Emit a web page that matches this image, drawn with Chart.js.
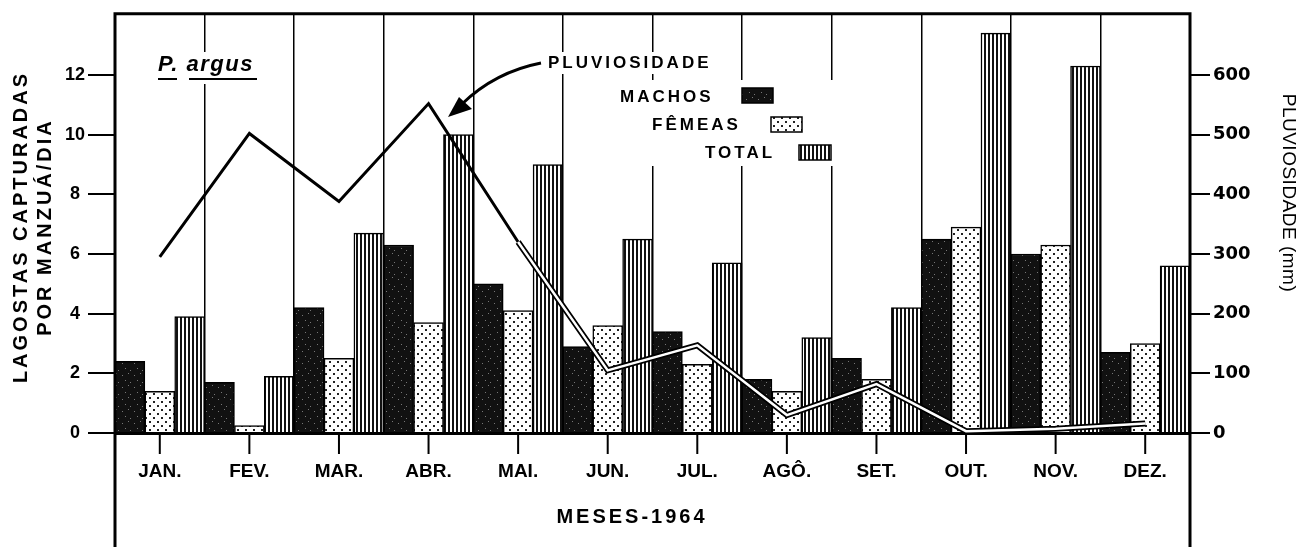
<!DOCTYPE html>
<html>
<head>
<meta charset="utf-8">
<script src="https://cdn.jsdelivr.net/npm/chart.js@4"></script>
<style>
    html, body { margin: 0; padding: 0; background: #fff; }
    #wrap { width: 1310px; height: 547px; }
</style>
</head>
<body>
<div id="wrap"><canvas id="lagostas_chart"></canvas></div>
<script>
const meses = ['JAN.', 'FEV.', 'MAR.', 'ABR.', 'MAI.', 'JUN.', 'JUL.', 'AGÔ.', 'SET.', 'OUT.', 'NOV.', 'DEZ.']
const machos = [2.4, 1.7, 4.2, 6.3, 5.0, 2.9, 3.4, 1.8, 2.5, 6.5, 6.0, 2.7]
const femeas = [1.4, 0.25, 2.5, 3.7, 4.1, 3.6, 2.3, 1.4, 1.8, 6.9, 6.3, 3.0]
const total = [3.9, 1.9, 6.7, 10.0, 9.0, 6.5, 5.7, 3.2, 4.2, 13.4, 12.3, 5.6]
const pluviosidade = [295, 502, 388, 552, 320, 105, 147, 30, 82, 3, 7, 16]
const ticksLagostas = [0, 2, 4, 6, 8, 10, 12]
const ticksChuva = [0, 100, 200, 300, 400, 500, 600]

const lagostas_chart = document.querySelector('#lagostas_chart')

// fill patterns for the bars
function tile(w, h, draw) {
    const c = document.createElement('canvas')
    c.width = w
    c.height = h
    const g = c.getContext('2d')
    draw(g)
    return g.createPattern(c, 'repeat')
}
const padraoMachos = tile(12, 12, g => {
    g.fillStyle = '#111'
    g.fillRect(0, 0, 12, 12)
    g.fillStyle = '#777'
    g.fillRect(2, 3, 1, 1)
    g.fillRect(8, 1, 1, 1)
    g.fillRect(5, 8, 1, 1)
    g.fillRect(10, 10, 1, 1)
})
const padraoFemeas = tile(8, 8, g => {
    g.fillStyle = '#fff'
    g.fillRect(0, 0, 8, 8)
    g.fillStyle = '#222'
    g.fillRect(1, 1, 2, 2)
    g.fillRect(5, 5, 2, 2)
})
const padraoTotal = tile(4, 4, g => {
    g.fillStyle = '#fff'
    g.fillRect(0, 0, 4, 4)
    g.fillStyle = '#111'
    g.fillRect(0, 0, 2, 4)
})

function texto(ctx, str, x, y, font, spacing, align) {
    ctx.font = font
    ctx.letterSpacing = spacing + 'px'
    ctx.textAlign = align || 'left'
    ctx.textBaseline = 'middle'
    ctx.fillText(str, x, y)
}

function caixa(ctx, x, y, w, h, fill) {
    ctx.fillStyle = fill
    ctx.fillRect(x, y, w, h)
    ctx.strokeStyle = '#000'
    ctx.lineWidth = 1.5
    ctx.strokeRect(x, y, w, h)
}

// labels, legend and annotation, under the bars but over the grid
const anotacoes = {
    id: 'anotacoes',
    beforeDatasetsDraw(chart) {
        const ctx = chart.ctx
        ctx.save()
        ctx.fillStyle = '#fff'
        ctx.fillRect(150, 52, 115, 32)
        ctx.fillRect(540, 52, 178, 22)
        ctx.fillRect(612, 80, 225, 86)

        ctx.fillStyle = '#000'
        texto(ctx, 'P. argus', 158, 65, 'italic bold 22px "Liberation Sans"', 1.5)
        ctx.fillRect(158, 78, 19, 2)
        ctx.fillRect(189, 78, 68, 2)

        texto(ctx, 'PLUVIOSIDADE', 548, 63, 'bold 17px "Liberation Sans"', 3)
        texto(ctx, 'MACHOS', 620, 97, 'bold 17px "Liberation Sans"', 3)
        texto(ctx, 'FÊMEAS', 652, 125, 'bold 17px "Liberation Sans"', 3)
        texto(ctx, 'TOTAL', 705, 153, 'bold 17px "Liberation Sans"', 3)
        caixa(ctx, 742, 88, 31, 15, padraoMachos)
        caixa(ctx, 771, 117, 31, 15, padraoFemeas)
        caixa(ctx, 799, 145, 32, 15, padraoTotal)

        // arrow to the rainfall line
        ctx.strokeStyle = '#000'
        ctx.fillStyle = '#000'
        ctx.lineWidth = 3
        ctx.beginPath()
        ctx.moveTo(541, 63)
        ctx.quadraticCurveTo(495, 72, 462, 104)
        ctx.stroke()
        ctx.beginPath()
        ctx.moveTo(448, 117)
        ctx.lineTo(459, 97)
        ctx.lineTo(472, 109)
        ctx.closePath()
        ctx.fill()
        ctx.restore()
    },
    afterDraw(chart) {
        const ctx = chart.ctx
        const area = chart.chartArea
        const x = chart.scales.x
        ctx.save()
        ctx.strokeStyle = '#000'
        ctx.lineWidth = 3
        ctx.beginPath()
        ctx.moveTo(area.left, chart.height)
        ctx.lineTo(area.left, area.top)
        ctx.lineTo(area.right, area.top)
        ctx.lineTo(area.right, chart.height)
        ctx.stroke()

        // month ticks at the centre of each group
        ctx.lineWidth = 2
        meses.forEach((m, i) => {
            const px = x.getPixelForValue(i)
            ctx.beginPath()
            ctx.moveTo(px, area.bottom)
            ctx.lineTo(px, area.bottom + 21)
            ctx.stroke()
        })

        ctx.fillStyle = '#000'
        texto(ctx, 'MESES-1964', 632, 517, 'bold 20px "Liberation Sans"', 3, 'center')

        ctx.translate(21, 227)
        ctx.rotate(-Math.PI / 2)
        texto(ctx, 'LAGOSTAS CAPTURADAS', 0, 0, 'bold 20px "Liberation Sans"', 3, 'center')
        texto(ctx, 'POR MANZUÁ/DIA', 0, 24, 'bold 20px "Liberation Sans"', 3, 'center')
        ctx.setTransform(1, 0, 0, 1, 0, 0)
        ctx.translate(1288, 193)
        ctx.rotate(Math.PI / 2)
        texto(ctx, 'PLUVIOSIDADE (mm)', 0, 0, '19px "Liberation Sans"', 0.5, 'center')
        ctx.restore()
    }
}

function lagostasChart() {
    new Chart(lagostas_chart, {
        type: 'bar',
        data: {
            labels: meses,
            datasets: [{
                label: 'MACHOS',
                data: machos,
                backgroundColor: padraoMachos,
                borderColor: '#000',
                borderWidth: 1.5,
                order: 2
            }, {
                label: 'FÊMEAS',
                data: femeas,
                backgroundColor: padraoFemeas,
                borderColor: '#000',
                borderWidth: 1.5,
                order: 2
            }, {
                label: 'TOTAL',
                data: total,
                backgroundColor: padraoTotal,
                borderColor: '#000',
                borderWidth: 1.5,
                order: 2
            }, {
                type: 'line',
                label: 'PLUVIOSIDADE',
                data: pluviosidade,
                yAxisID: 'y1',
                borderColor: '#000',
                borderWidth: 3,
                segment: {
                    borderWidth: c => c.p0DataIndex >= 4 ? 6 : 3
                },
                pointRadius: 0,
                tension: 0,
                order: 1
            }, {
                type: 'line',
                label: 'PLUVIOSIDADE',
                data: pluviosidade,
                yAxisID: 'y1',
                borderColor: '#fff',
                borderWidth: 2.5,
                segment: {
                    borderColor: c => c.p0DataIndex >= 4 ? '#fff' : 'rgba(0,0,0,0)'
                },
                pointRadius: 0,
                tension: 0,
                order: 0
            }]
        },
        plugins: [anotacoes],
        options: {
            responsive: true,
            maintainAspectRatio: false,
            animation: false,
            layout: { padding: { top: 10 } },
            datasets: {
                bar: { categoryPercentage: 1, barPercentage: 1 }
            },
            plugins: {
                legend: { display: false },
                tooltip: { enabled: false }
            },
            scales: {
                x: {
                    afterFit: s => { s.height = 114 },
                    grid: { offset: true, color: '#000', lineWidth: 1.5, drawTicks: false },
                    border: { display: true, color: '#000', width: 3 },
                    ticks: {
                        color: '#000',
                        padding: 27,
                        font: { family: 'Liberation Sans', size: 19, weight: 'bold' }
                    }
                },
                y: {
                    min: 0,
                    max: 14.05,
                    afterFit: s => { s.width = 115 },
                    afterBuildTicks: s => { s.ticks = ticksLagostas.map(v => ({ value: v })) },
                    grid: { drawOnChartArea: false, color: '#000', lineWidth: 2, tickLength: 27 },
                    border: { display: false },
                    ticks: {
                        color: '#000',
                        padding: 3,
                        crossAlign: 'center',
                        font: { family: 'Liberation Sans', size: 18, weight: 'bold' }
                    }
                },
                y1: {
                    position: 'right',
                    min: 0,
                    max: 702.5,
                    afterFit: s => { s.width = 120 },
                    afterBuildTicks: s => { s.ticks = ticksChuva.map(v => ({ value: v })) },
                    grid: { drawOnChartArea: false, color: '#000', lineWidth: 2, tickLength: 20 },
                    border: { display: false },
                    ticks: {
                        color: '#000',
                        padding: 3,
                        font: { family: 'DejaVu Sans', size: 18, weight: 'bold' }
                    }
                }
            }
        }
    })
}
lagostasChart()
</script>
</body>
</html>
